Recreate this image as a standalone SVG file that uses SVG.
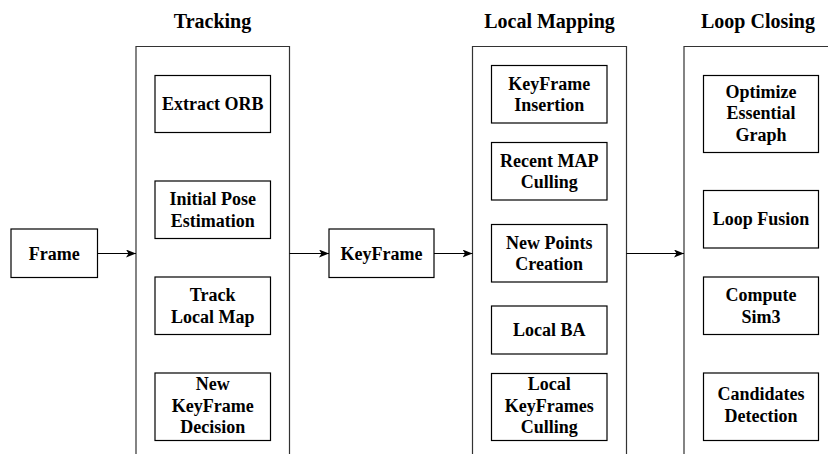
<svg xmlns="http://www.w3.org/2000/svg" width="828" height="454" viewBox="0 0 828 454">
<defs>
<style>
.box{fill:#fff;stroke:#000;stroke-width:1.2}
.cont{fill:none;stroke:#333;stroke-width:1.2}
.edge{fill:none;stroke:#000;stroke-width:1.2}
</style>
<marker id="arr" markerWidth="10" markerHeight="8" refX="10" refY="4" orient="auto" markerUnits="userSpaceOnUse">
<path d="M0,0 L10,4 L0,8 L2.5,4 z" fill="#000"/>
</marker>
</defs>
<g id="tracking">
<text font-family="Liberation Serif" font-weight="bold" font-size="20" text-anchor="middle" x="212.5" y="28">Tracking</text>
<path class="cont" d="M136,455 V46.5 H289.5 V455"/>
</g>
<g id="localmapping">
<text font-family="Liberation Serif" font-weight="bold" font-size="20" text-anchor="middle" x="549.5" y="28">Local Mapping</text>
<path class="cont" d="M472.5,455 V46.5 H626.5 V455"/>
</g>
<g id="loopclosing">
<text font-family="Liberation Serif" font-weight="bold" font-size="20" text-anchor="middle" x="758" y="28">Loop Closing</text>
<path class="cont" d="M684,455 V46.5 H834 V455"/>
</g>
<g id="frame"><rect class="box" x="11" y="229" width="86.5" height="48.5"/><text font-family="Liberation Serif" font-weight="bold" font-size="18" text-anchor="middle" x="54.2" y="259.5">Frame</text></g>
<g id="keyframe"><rect class="box" x="329" y="229" width="105" height="48.5"/><text font-family="Liberation Serif" font-weight="bold" font-size="18" text-anchor="middle" x="381.5" y="259.5">KeyFrame</text></g>
<g id="extractorb"><rect class="box" x="155" y="75.5" width="115.5" height="57"/><text font-family="Liberation Serif" font-weight="bold" font-size="18" text-anchor="middle" x="212.7" y="110">Extract ORB</text></g>
<g id="initialpose"><rect class="box" x="155" y="181" width="115.5" height="57.5"/><text font-family="Liberation Serif" font-weight="bold" font-size="18" text-anchor="middle" x="212.7" y="205">Initial Pose</text><text font-family="Liberation Serif" font-weight="bold" font-size="18" text-anchor="middle" x="212.7" y="226.7">Estimation</text></g>
<g id="tracklocalmap"><rect class="box" x="155" y="277" width="115.5" height="57.5"/><text font-family="Liberation Serif" font-weight="bold" font-size="18" text-anchor="middle" x="212.7" y="301">Track</text><text font-family="Liberation Serif" font-weight="bold" font-size="18" text-anchor="middle" x="212.7" y="322.7">Local Map</text></g>
<g id="newkeyframe"><rect class="box" x="155" y="373" width="115.5" height="67.5"/><text font-family="Liberation Serif" font-weight="bold" font-size="18" text-anchor="middle" x="212.7" y="390">New</text><text font-family="Liberation Serif" font-weight="bold" font-size="18" text-anchor="middle" x="212.7" y="411.7">KeyFrame</text><text font-family="Liberation Serif" font-weight="bold" font-size="18" text-anchor="middle" x="212.7" y="433.3">Decision</text></g>
<g id="kfinsertion"><rect class="box" x="491.5" y="65.5" width="115.5" height="57.5"/><text font-family="Liberation Serif" font-weight="bold" font-size="18" text-anchor="middle" x="549.2" y="89.5">KeyFrame</text><text font-family="Liberation Serif" font-weight="bold" font-size="18" text-anchor="middle" x="549.2" y="111.2">Insertion</text></g>
<g id="recentmap"><rect class="box" x="491.5" y="142.5" width="115.5" height="57.5"/><text font-family="Liberation Serif" font-weight="bold" font-size="18" text-anchor="middle" x="549.2" y="166.5">Recent MAP</text><text font-family="Liberation Serif" font-weight="bold" font-size="18" text-anchor="middle" x="549.2" y="188.2">Culling</text></g>
<g id="newpoints"><rect class="box" x="491.5" y="224.5" width="115.5" height="57.5"/><text font-family="Liberation Serif" font-weight="bold" font-size="18" text-anchor="middle" x="549.2" y="248.5">New Points</text><text font-family="Liberation Serif" font-weight="bold" font-size="18" text-anchor="middle" x="549.2" y="270.2">Creation</text></g>
<g id="localba"><rect class="box" x="491.5" y="306" width="115.5" height="48"/><text font-family="Liberation Serif" font-weight="bold" font-size="18" text-anchor="middle" x="549.2" y="336">Local BA</text></g>
<g id="localkfculling"><rect class="box" x="491.5" y="373.5" width="115.5" height="67"/><text font-family="Liberation Serif" font-weight="bold" font-size="18" text-anchor="middle" x="549.2" y="390">Local</text><text font-family="Liberation Serif" font-weight="bold" font-size="18" text-anchor="middle" x="549.2" y="411.7">KeyFrames</text><text font-family="Liberation Serif" font-weight="bold" font-size="18" text-anchor="middle" x="549.2" y="433.3">Culling</text></g>
<g id="optimize"><rect class="box" x="703.5" y="75.5" width="115" height="77"/><text font-family="Liberation Serif" font-weight="bold" font-size="18" text-anchor="middle" x="761" y="97.5">Optimize</text><text font-family="Liberation Serif" font-weight="bold" font-size="18" text-anchor="middle" x="761" y="119.2">Essential</text><text font-family="Liberation Serif" font-weight="bold" font-size="18" text-anchor="middle" x="761" y="140.9">Graph</text></g>
<g id="loopfusion"><rect class="box" x="703.5" y="190.5" width="115" height="57.5"/><text font-family="Liberation Serif" font-weight="bold" font-size="18" text-anchor="middle" x="761" y="225">Loop Fusion</text></g>
<g id="computesim3"><rect class="box" x="703.5" y="277" width="115" height="57.5"/><text font-family="Liberation Serif" font-weight="bold" font-size="18" text-anchor="middle" x="761" y="301">Compute</text><text font-family="Liberation Serif" font-weight="bold" font-size="18" text-anchor="middle" x="761" y="322.7">Sim3</text></g>
<g id="candidates"><rect class="box" x="703.5" y="373" width="115" height="67.5"/><text font-family="Liberation Serif" font-weight="bold" font-size="18" text-anchor="middle" x="761" y="400">Candidates</text><text font-family="Liberation Serif" font-weight="bold" font-size="18" text-anchor="middle" x="761" y="421.7">Detection</text></g>
<g id="connectors">
<line class="edge" x1="97.5" y1="253.5" x2="136" y2="253.5" marker-end="url(#arr)"/>
<line class="edge" x1="289.5" y1="253.5" x2="329" y2="253.5" marker-end="url(#arr)"/>
<line class="edge" x1="434" y1="253.5" x2="472.5" y2="253.5" marker-end="url(#arr)"/>
<line class="edge" x1="626.5" y1="253.5" x2="684" y2="253.5" marker-end="url(#arr)"/>
</g>
</svg>
